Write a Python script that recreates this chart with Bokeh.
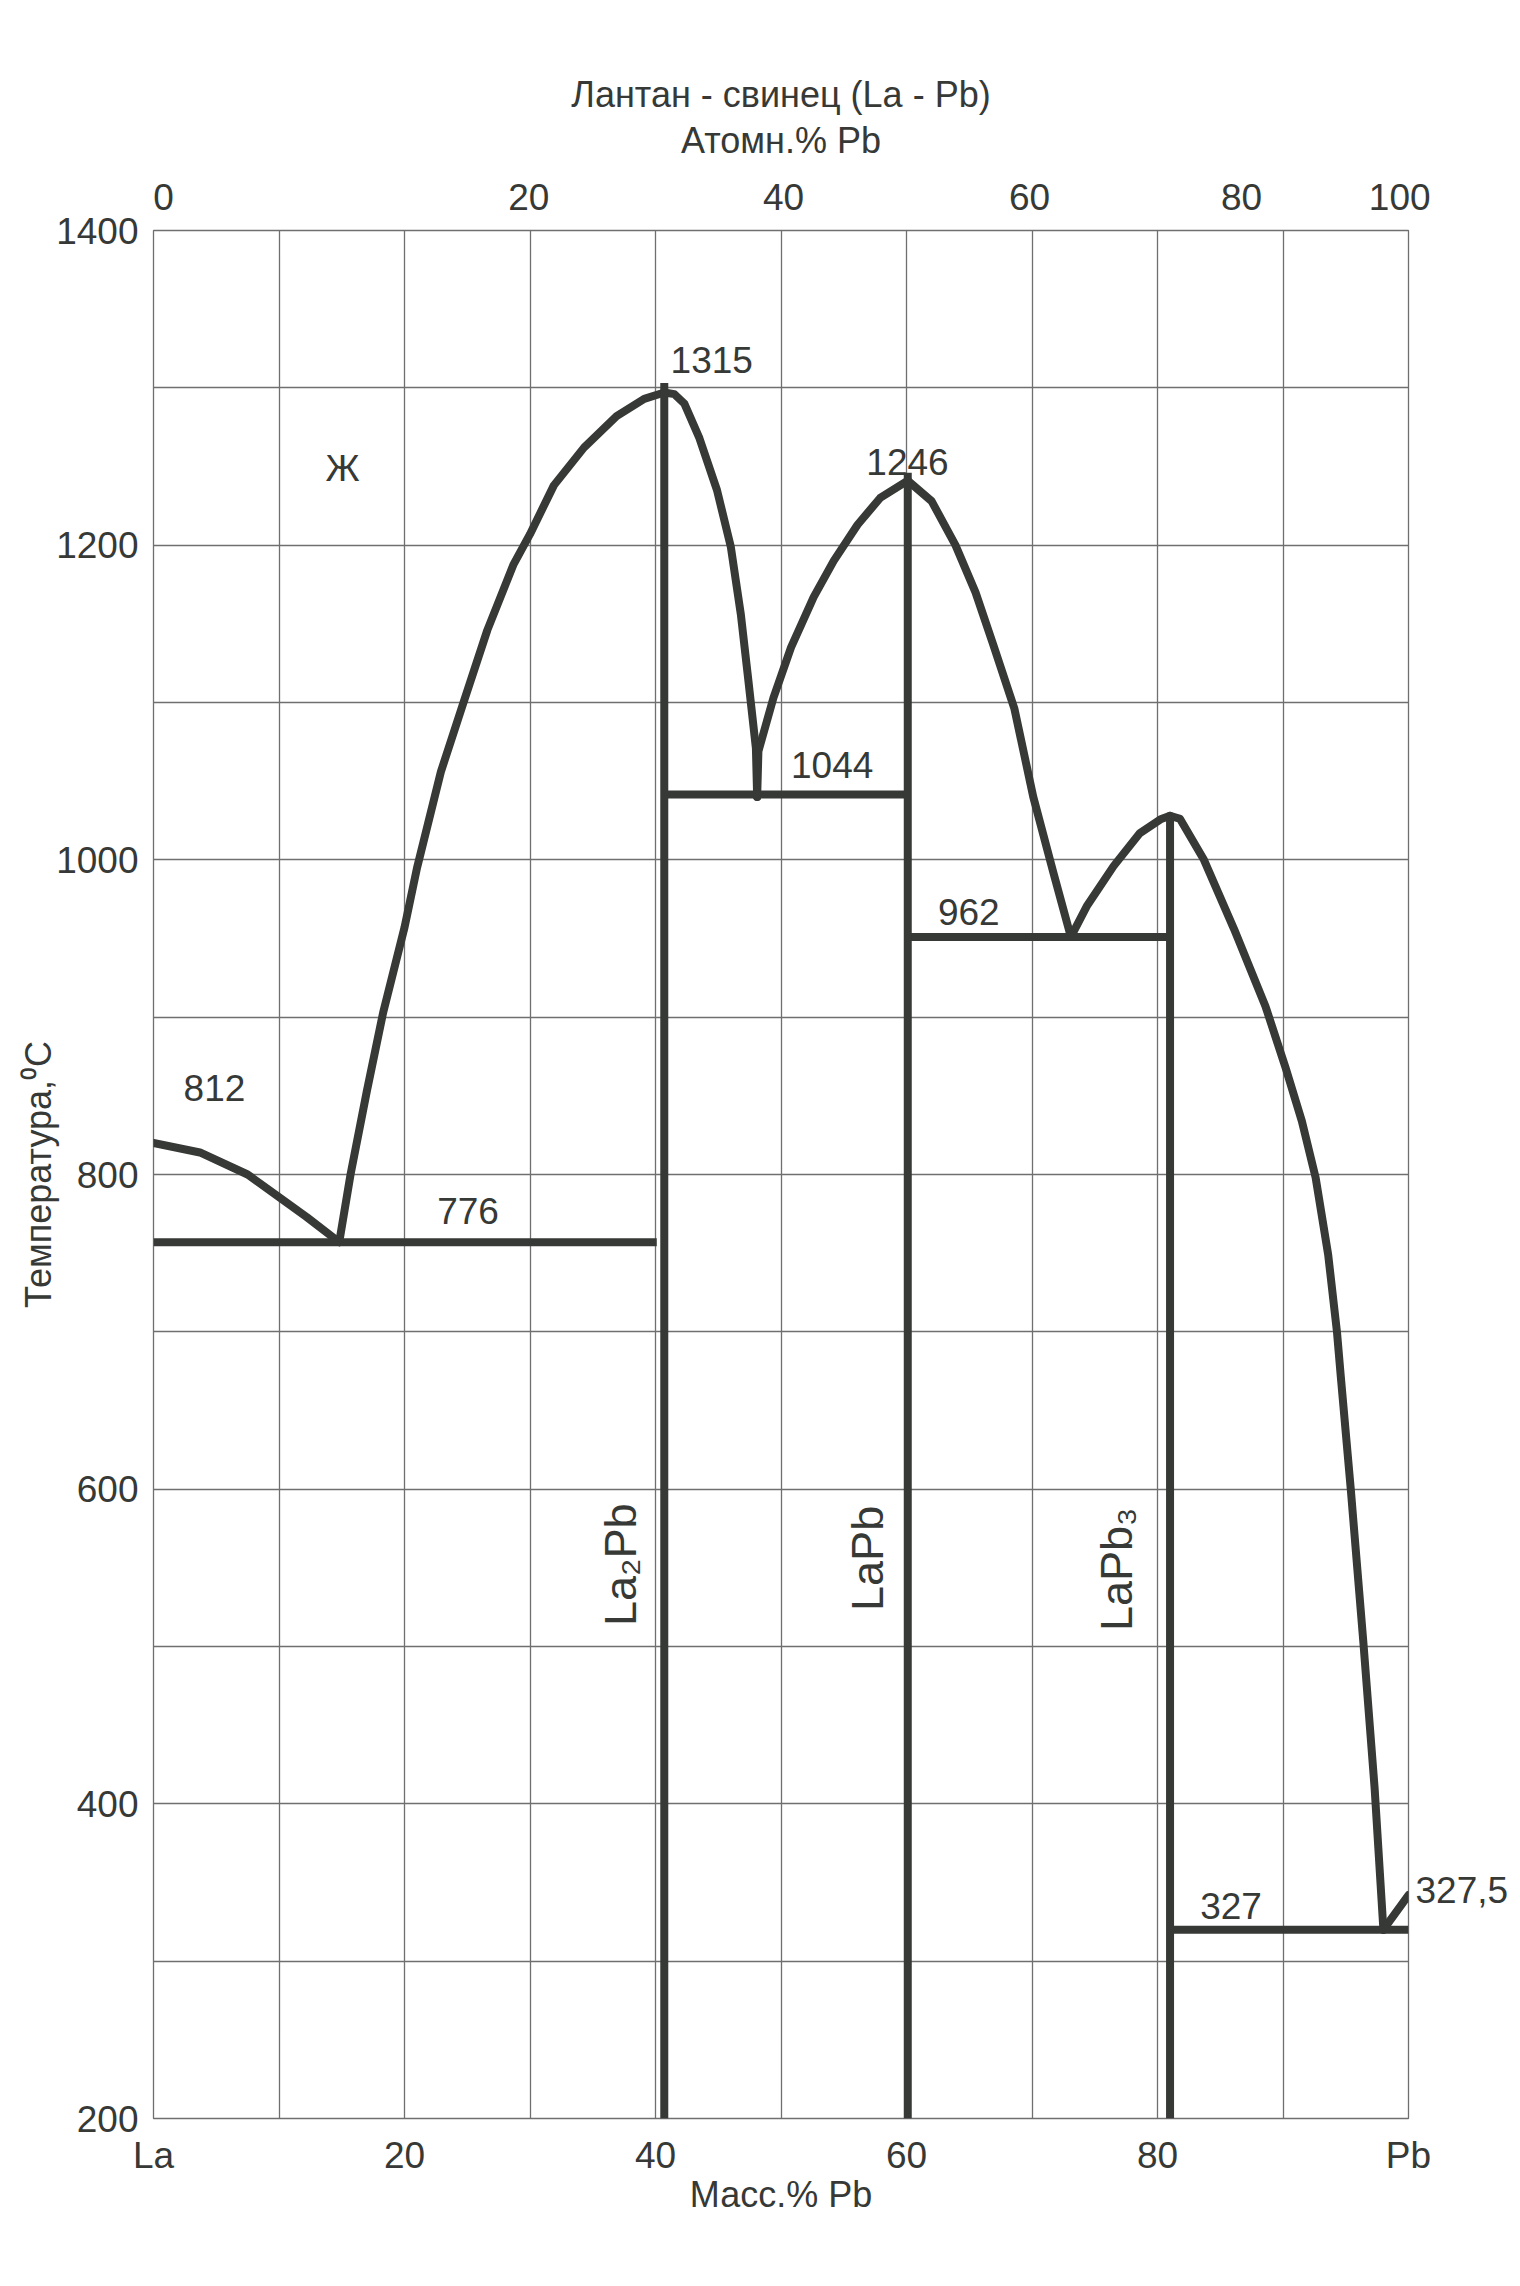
import numpy as np
from bokeh.plotting import figure
from bokeh.models import Range1d, FixedTicker, LinearAxis
from bokeh.core.properties import value
from bokeh.embed import file_html
from bokeh.resources import INLINE

FONT = "Liberation Sans"
INK = "#363936"
GRID = "#6f6f6f"

# ---------------- data (mass % Pb, temperature °C) ----------------
# La-rich liquidus (812 branch)
liq1_x = [0, 3.7, 7.5, 10.1, 12.2, 14.8]
liq1_t = [820, 814, 800, 785, 773, 757]
# liquidus from eutectic 776 up to La2Pb maximum
liq2_x = [14.8, 15.7, 17.0, 18.3, 20.0, 21.0, 22.9, 24.7, 26.6, 28.7, 30.0, 31.9, 34.3, 36.9, 39.1, 40.7]
liq2_t = [757, 800, 853, 903, 957, 995, 1056, 1100, 1146, 1188, 1207, 1238, 1262, 1282, 1293, 1297]
# La2Pb maximum down to eutectic 1044
liq3_x = [40.7, 41.5, 42.3, 43.5, 44.9, 46.0, 46.8, 47.4, 48.0, 48.1]
liq3_t = [1297, 1296, 1290, 1268, 1235, 1199, 1156, 1114, 1071, 1040]
# eutectic 1044 up to LaPb maximum
liq4_x = [48.1, 48.2, 49.4, 50.8, 52.6, 54.2, 56.1, 57.9, 60.1]
liq4_t = [1040, 1069, 1103, 1135, 1167, 1190, 1213, 1230, 1241]
# LaPb maximum down to eutectic 962
liq5_x = [60.1, 62.0, 63.9, 65.5, 66.9, 68.6, 70.1, 71.7, 73.1]
liq5_t = [1241, 1228, 1200, 1170, 1137, 1096, 1040, 992, 951]
# eutectic 962 up to LaPb3 maximum
liq6_x = [73.1, 74.4, 76.5, 78.6, 80.3, 81.0]
liq6_t = [951, 971, 996, 1017, 1026, 1028]
# LaPb3 maximum down to Pb-side eutectic
liq7_x = [81.0, 81.8, 83.7, 86.1, 88.6, 90.2, 91.5, 92.6, 93.6, 94.3, 94.6, 95.4, 96.4, 97.3, 98.0]
liq7_t = [1028, 1026, 1000, 956, 907, 868, 834, 798, 749, 700, 672, 600, 503, 410, 320]
# short branch to Pb melting point
pb_x = [98.0, 100.0]
pb_t = [320, 342]

# invariant (horizontal) lines
inv_x0 = [0, 40.7, 60.1, 81.0]
inv_x1 = [40.1, 60.1, 81.0, 100.0]
inv_t = [757, 1041.5, 951, 320]

# compounds (vertical lines)
comp_x = [40.7, 60.1, 81.0]
comp_top = [1303, 1246, 1028]
comp_bottom = [200, 200, 200]
comp_names = ["La\u2082Pb", "LaPb", "LaPb\u2083"]
comp_lab_x = [37.2, 56.9, 76.7]
comp_lab_t = [552, 556, 549]

# annotations inside the diagram (left edge, vertical centre)
ann_text = ["Ж", "1315", "1246", "1044", "962", "812", "776", "327"]
ann_x = [13.7, 41.2, 56.8, 50.8, 62.5, 2.4, 22.6, 83.4]
ann_t = [1249, 1318, 1253, 1060, 967, 855, 777, 335]

# Pb melting point label (right of the frame)
pb_label_t = [345]
pb_label = ["327,5"]

# axes
mass_ticks = [0, 20, 40, 60, 80, 100]
mass_labels = {0: "La", 100: "Pb"}
atom_tick_pos = [0.8, 29.9, 50.2, 69.8, 86.7, 99.3]
atom_tick_lab = ["0", "20", "40", "60", "80", "100"]
temp_ticks = [200, 400, 600, 800, 1000, 1200, 1400]

# ---------------- figure ----------------
p = figure(frame_width=1255, frame_height=1888,
           x_range=Range1d(0, 100), y_range=Range1d(200, 1400),
           output_backend="svg", toolbar_location=None,
           min_border_left=153, min_border_right=104,
           min_border_top=230, min_border_bottom=150)
p.background_fill_color = "white"
p.border_fill_color = "white"
p.outline_line_color = GRID
p.outline_line_width = 1.3

p.xgrid.ticker = FixedTicker(ticks=list(range(10, 100, 10)))
p.ygrid.ticker = FixedTicker(ticks=list(range(300, 1400, 100)))
p.grid.grid_line_color = GRID
p.grid.grid_line_width = 1.3

def style_axis(ax, standoff, label_standoff):
    ax.axis_line_color = None
    ax.major_tick_line_color = None
    ax.minor_tick_line_color = None
    ax.major_label_text_font = FONT
    ax.major_label_text_font_size = "37px"
    ax.major_label_text_color = INK
    ax.major_label_standoff = standoff
    ax.axis_label_text_font = FONT
    ax.axis_label_text_font_size = "36px"
    ax.axis_label_text_font_style = "normal"
    ax.axis_label_text_color = INK
    ax.axis_label_standoff = label_standoff

xa = p.xaxis[0]
xa.ticker = FixedTicker(ticks=mass_ticks)
xa.major_label_overrides = mass_labels
xa.axis_label = "Масс.% Pb"
style_axis(xa, 10, -5)

ya = p.yaxis[0]
ya.ticker = FixedTicker(ticks=temp_ticks)
ya.axis_label = "Температура,\u2070C"
style_axis(ya, 9, -6)

top = LinearAxis(ticker=FixedTicker(ticks=atom_tick_pos),
                 major_label_overrides={float(k): v for k, v in zip(atom_tick_pos, atom_tick_lab)},
                 axis_label="Атомн.% Pb")
style_axis(top, 15, 20)
p.add_layout(top, "above")

right = LinearAxis(ticker=FixedTicker(ticks=pb_label_t),
                   major_label_overrides={int(k): v for k, v in zip(pb_label_t, pb_label)})
style_axis(right, 1, 0)
p.add_layout(right, "right")

p.title.text = "Лантан - свинец (La - Pb)"
p.title.align = "center"
p.title.text_font = FONT
p.title.text_font_size = "36px"
p.title.text_font_style = "normal"
p.title.text_color = INK
p.title.standoff = 3

LW = 8
for xs, ts in [(liq1_x, liq1_t), (liq2_x, liq2_t), (liq3_x, liq3_t), (liq4_x, liq4_t),
               (liq5_x, liq5_t), (liq6_x, liq6_t), (liq7_x, liq7_t), (pb_x, pb_t)]:
    p.line(xs, ts, line_color=INK, line_width=LW, line_join="round", line_cap="round")

p.segment(x0=inv_x0, y0=inv_t, x1=inv_x1, y1=inv_t, line_color=INK, line_width=LW)
p.segment(x0=comp_x, y0=comp_bottom, x1=comp_x, y1=comp_top, line_color=INK, line_width=LW)

p.text(x=ann_x, y=ann_t, text=ann_text, text_font=value(FONT), text_font_size=value("37px"),
       text_color=INK, text_align="left", text_baseline="middle")
p.text(x=comp_lab_x, y=comp_lab_t, text=comp_names, angle=np.pi / 2,
       text_font=value(FONT), text_font_size=value("45px"), text_color=INK,
       text_align="center", text_baseline="middle")

open("out.html", "w").write(file_html(p, INLINE))
